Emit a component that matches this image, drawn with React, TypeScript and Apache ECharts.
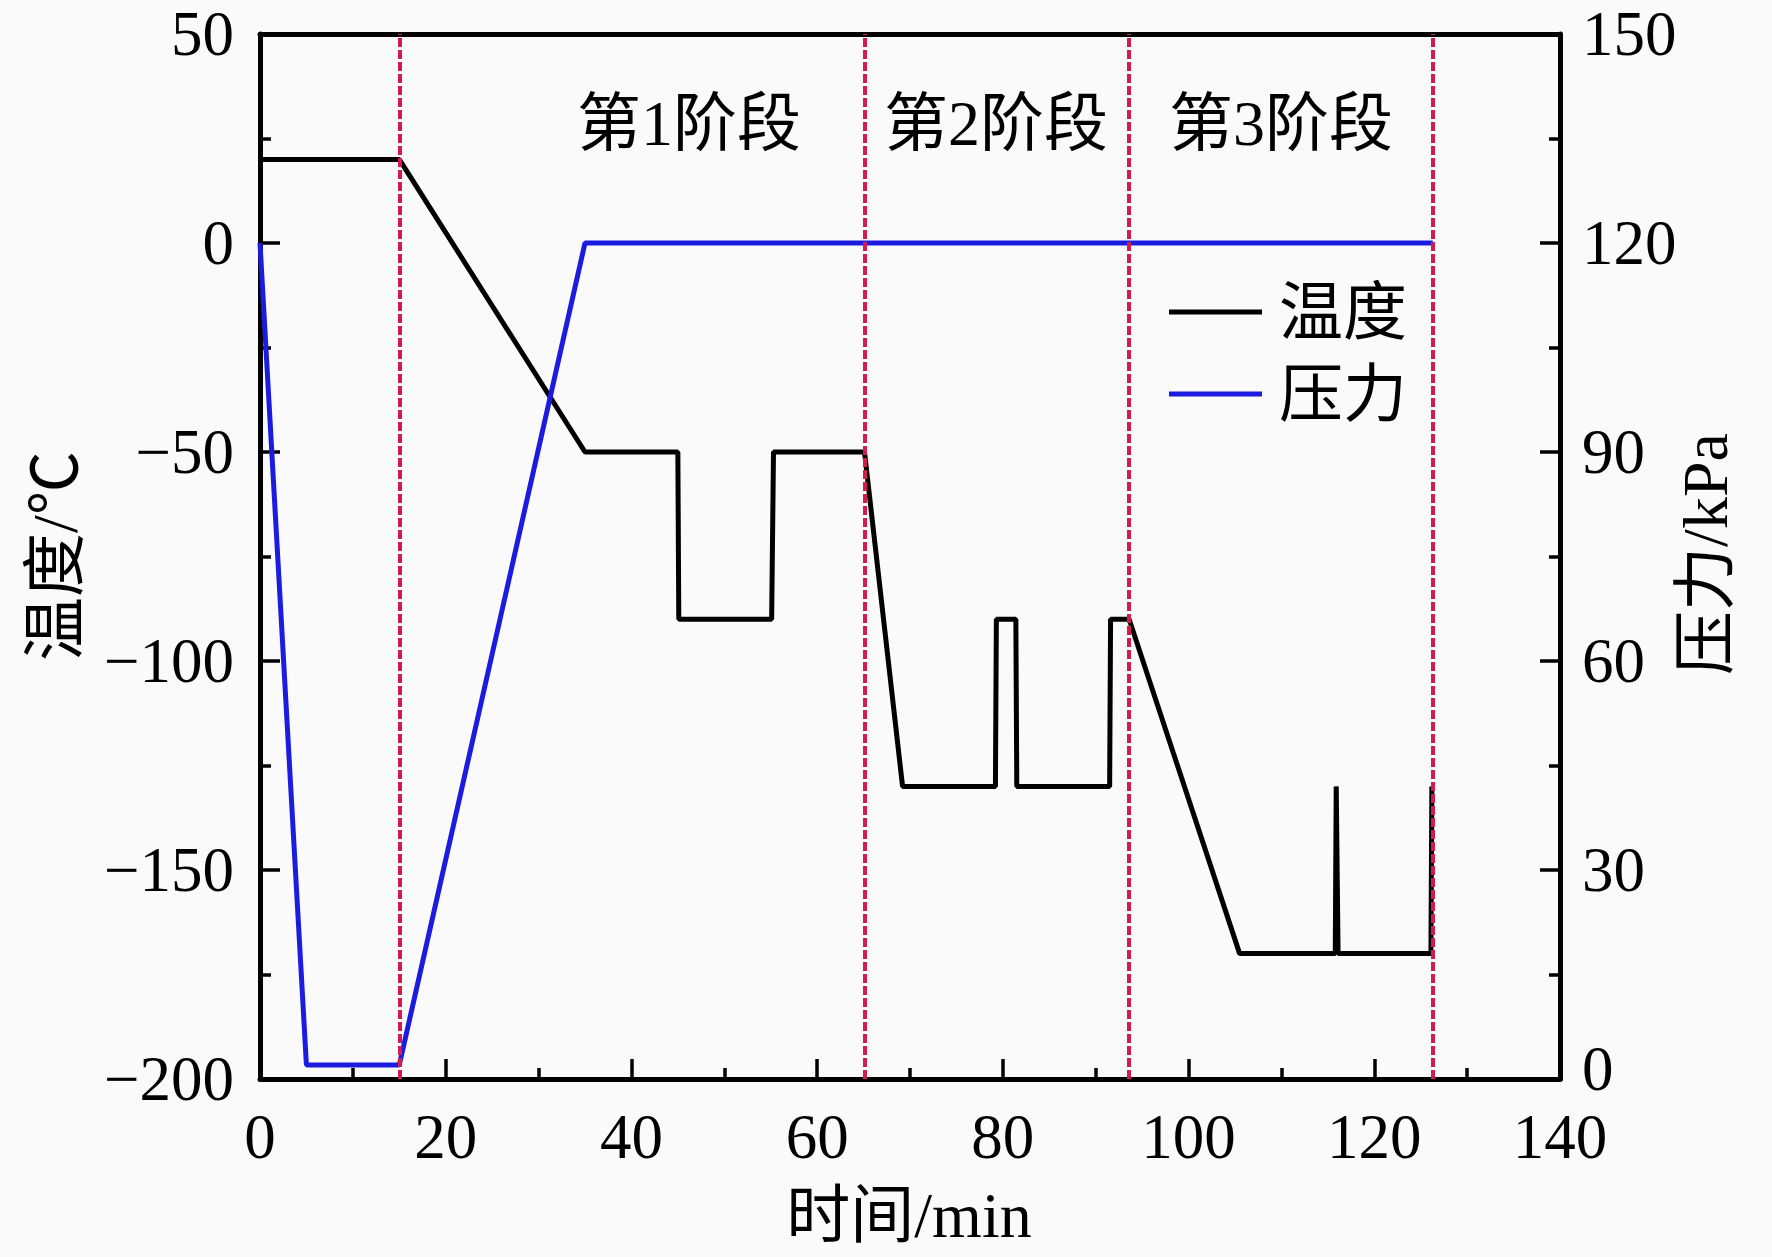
import React, { useEffect, useRef } from "react";
import * as echarts from "echarts";

const FONT = "'Liberation Serif', 'Times New Roman', 'Noto Sans CJK SC', serif";

// time (min), temperature (°C)
const tempPoints: [number, number][] = [
  [0, 20], [15, 20], [35, -50], [45, -50], [45.1, -90], [55.1, -90], [55.3, -50],
  [65.1, -50], [69.2, -130], [79.2, -130], [79.3, -90], [81.4, -90], [81.5, -130],
  [91.5, -130], [91.6, -90], [93.6, -90], [105.5, -170], [115.8, -170], [115.9, -130],
  [116.1, -170], [126.1, -170], [126.2, -130],
];
// time (min), pressure (kPa)
const pressurePoints: [number, number][] = [
  [0, 120], [5, 2], [15, 2], [35, 120], [126.3, 120],
];
const stageBoundaries = [15, 65.1, 93.6, 126.3];
const stageLabels = ["第1阶段", "第2阶段", "第3阶段"];
const stageLabelX = [689, 996, 1281];
const seriesNames = ["温度", "压力"];
const xTitle = "时间/min";
const yLeftTitle = "温度/℃";
const yRightTitle = "压力/kPa";

const fmt = (v: number) => (v < 0 ? "\u2212" + Math.abs(v) : String(v));

export default function App() {
  const ref = useRef<HTMLDivElement>(null);
  useEffect(() => {
    document.body.style.margin = "0";
    const chart = echarts.init(ref.current!, undefined, { renderer: "svg" });
    const axisLine = { show: true, onZero: false, lineStyle: { color: "#000", width: 5 } };
    const axisTick = { show: true, inside: true, length: 20, lineStyle: { color: "#000", width: 3.5 } };
    const minorTick = { show: true, splitNumber: 2, length: 11, lineStyle: { color: "#000", width: 3.5 } };
    const LABEL_SIZE = 63;
    const axisLabelBase = { color: "#000", fontSize: LABEL_SIZE, fontFamily: FONT };
    chart.setOption({
      animation: false,
      backgroundColor: "#fafafa",
      grid: { left: 260, right: 212, top: 34, bottom: 178, containLabel: false },
      legend: {
        orient: "vertical",
        left: 1164,
        top: 272,
        icon: "rect",
        itemWidth: 93,
        itemHeight: 5,
        itemGap: 12,
        data: seriesNames,
        textStyle: { color: "#000", fontSize: 64, fontFamily: FONT, lineHeight: 70, padding: [0, 0, 0, 12] },
      },
      xAxis: [
        {
          type: "value",
          min: 0,
          max: 140,
          interval: 20,
          position: "bottom",
          axisLine,
          axisTick,
          minorTick,
          splitLine: { show: false },
          axisLabel: { ...axisLabelBase, margin: 26 },
        },
        {
          type: "value",
          min: 0,
          max: 140,
          position: "top",
          axisLine,
          axisTick: { show: false },
          axisLabel: { show: false },
          splitLine: { show: false },
        },
      ],
      yAxis: [
        {
          type: "value",
          min: -200,
          max: 50,
          interval: 50,
          position: "left",
          axisLine,
          axisTick,
          minorTick,
          splitLine: { show: false },
          axisLabel: { ...axisLabelBase, margin: 26, formatter: fmt },
        },
        {
          type: "value",
          min: 0,
          max: 150,
          interval: 30,
          position: "right",
          axisLine,
          axisTick,
          minorTick,
          splitLine: { show: false },
          axisLabel: {
            ...axisLabelBase,
            margin: 22,
            formatter: (v: number) => (v === 0 ? "{z|0}" : String(v)),
            rich: {
              z: { color: "#000", fontSize: LABEL_SIZE, fontFamily: FONT, padding: [0, 0, 20, 0] },
            },
          },
        },
      ],
      series: [
        {
          name: seriesNames[0],
          type: "line",
          xAxisIndex: 0,
          yAxisIndex: 0,
          data: tempPoints,
          symbol: "none",
          color: "#000",
          lineStyle: { color: "#000", width: 5 },
          z: 3,
        },
        {
          name: seriesNames[1],
          type: "line",
          xAxisIndex: 0,
          yAxisIndex: 1,
          data: pressurePoints,
          symbol: "none",
          color: "#1c1ce0",
          lineStyle: { color: "#1c1ce0", width: 5 },
          z: 4,
          markLine: {
            silent: true,
            symbol: "none",
            label: { show: false },
            lineStyle: { color: "#d41c4c", width: 4, type: [9, 3] },
            data: stageBoundaries.map((x) => ({ xAxis: x })),
          },
        },
      ],
      graphic: [
        ...stageLabels.map((t, i) => ({
          type: "text",
          x: stageLabelX[i],
          y: 123,
          style: { text: t, font: `64px ${FONT}`, fill: "#000", textAlign: "center", textVerticalAlign: "middle" },
        })),
        {
          type: "text",
          x: 909,
          y: 1215,
          style: { text: xTitle, font: `64px ${FONT}`, fill: "#000", textAlign: "center", textVerticalAlign: "middle" },
        },
        {
          type: "text",
          x: 55,
          y: 556,
          rotation: Math.PI / 2,
          style: { text: yLeftTitle, font: `64px ${FONT}`, fill: "#000", textAlign: "center", textVerticalAlign: "middle" },
        },
        {
          type: "text",
          x: 1705,
          y: 554,
          rotation: Math.PI / 2,
          style: { text: yRightTitle, font: `64px ${FONT}`, fill: "#000", textAlign: "center", textVerticalAlign: "middle" },
        },
      ],
    });
    return () => chart.dispose();
  }, []);
  return <div ref={ref} style={{ width: 1772, height: 1257 }} />;
}
